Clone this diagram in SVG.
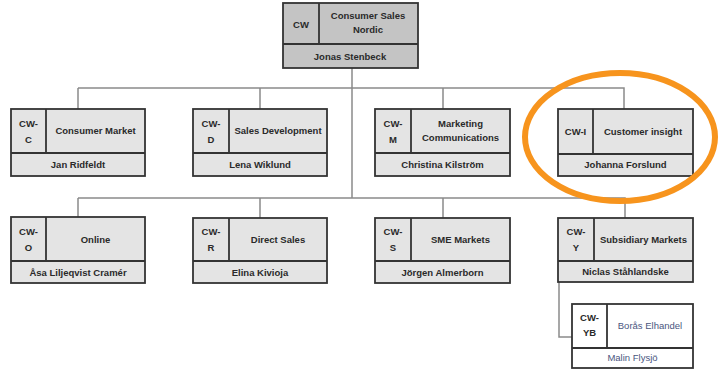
<svg xmlns="http://www.w3.org/2000/svg" width="719" height="370" viewBox="0 0 719 370">
<style>
.box{fill:#e4e4e4;stroke:#333;stroke-width:1.8}
.dark{fill:#c4c4c4;stroke:#333;stroke-width:1.8}
.white{fill:#fff;stroke:#333;stroke-width:1.8}
.div{stroke:#333;stroke-width:1.8;fill:none}
.conn{stroke:#8a8a8a;stroke-width:1.5;fill:none}
text{font-family:"Liberation Sans",Arial,sans-serif;font-size:9.5px;font-weight:bold;fill:#2a2a2a;text-anchor:middle}
.blue{fill:#4a5680;font-weight:normal}
</style>
<g id="connectors">
<path class="conn" d="M352 68V198M78 88H624V109M78 88V109M260 88V109M443 88V109"/>
<path class="conn" d="M78 198H625V218M78 198V218M260 198V218M443 198V218"/>
<path class="conn" d="M559 282V337H572"/>
</g>
<g id="n-cw">
<rect class="dark" x="283" y="3" width="135" height="65"/>
<path class="div" d="M319 3V44M283 44H418"/>
<text x="301" y="28">CW</text>
<text x="368" y="19">Consumer Sales</text>
<text x="368" y="33">Nordic</text>
<text x="350" y="60">Jonas Stenbeck</text>
</g>
<g id="n-cwc">
<rect class="box" x="11" y="109" width="134" height="67"/>
<path class="div" d="M46 109V153M11 153H145"/>
<text x="28.5" y="127">CW-</text><text x="28.5" y="143">C</text>
<text x="95.5" y="134">Consumer Market</text>
<text x="78" y="168">Jan Ridfeldt</text>
</g>
<g id="n-cwd">
<rect class="box" x="193" y="109" width="134" height="67"/>
<path class="div" d="M229 109V153M193 153H327"/>
<text x="211" y="127">CW-</text><text x="211" y="143">D</text>
<text x="278" y="134">Sales Development</text>
<text x="260" y="168">Lena Wiklund</text>
</g>
<g id="n-cwm">
<rect class="box" x="375" y="109" width="135" height="67"/>
<path class="div" d="M411 109V153M375 153H510"/>
<text x="393" y="127">CW-</text><text x="393" y="143">M</text>
<text x="460.5" y="127">Marketing</text>
<text x="460.5" y="141">Communications</text>
<text x="442.5" y="168">Christina Kilström</text>
</g>
<g id="n-cwi">
<rect class="box" x="558" y="109" width="135" height="67"/>
<path class="div" d="M593 109V154M558 154H693"/>
<text x="575.5" y="135">CW-I</text>
<text x="643" y="135">Customer insight</text>
<text x="625.5" y="168">Johanna Forslund</text>
</g>
<g id="n-cwo">
<rect class="box" x="11" y="217" width="134" height="66"/>
<path class="div" d="M46 217V261M11 261H145"/>
<text x="28.5" y="235">CW-</text><text x="28.5" y="251">O</text>
<text x="95.5" y="243">Online</text>
<text x="78" y="276">Åsa Liljeqvist Cramér</text>
</g>
<g id="n-cwr">
<rect class="box" x="193" y="218" width="134" height="65"/>
<path class="div" d="M229 218V261M193 261H327"/>
<text x="211" y="235">CW-</text><text x="211" y="251">R</text>
<text x="278" y="243">Direct Sales</text>
<text x="260" y="276">Elina Kivioja</text>
</g>
<g id="n-cws">
<rect class="box" x="375" y="218" width="135" height="65"/>
<path class="div" d="M411 218V261M375 261H510"/>
<text x="393" y="235">CW-</text><text x="393" y="251">S</text>
<text x="460.5" y="243">SME Markets</text>
<text x="442.5" y="276">Jörgen Almerborn</text>
</g>
<g id="n-cwy">
<rect class="box" x="558" y="218" width="135" height="64"/>
<path class="div" d="M594 218V261M558 261H693"/>
<text x="576" y="235">CW-</text><text x="576" y="251">Y</text>
<text x="643.5" y="243">Subsidiary Markets</text>
<text x="625.5" y="275">Niclas Ståhlandske</text>
</g>
<g id="n-cwyb">
<rect class="white" x="572" y="304" width="121" height="64"/>
<path class="div" d="M607 304V348M572 348H693"/>
<text x="589.5" y="321">CW-</text><text x="589.5" y="336">YB</text>
<text class="blue" x="650" y="329">Borås Elhandel</text>
<text class="blue" x="632.5" y="361">Malin Flysjö</text>
</g>
<ellipse cx="620" cy="137" rx="95" ry="64" fill="none" stroke="#f7941d" stroke-width="6"/>
</svg>
